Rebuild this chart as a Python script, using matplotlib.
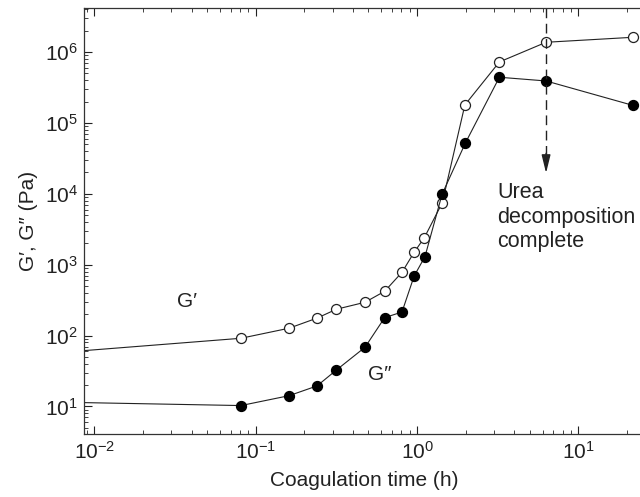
import matplotlib.pyplot as plt
import numpy as np

plt.rcParams['font.family'] = ['Liberation Sans', 'DejaVu Sans']
plt.rcParams['mathtext.default'] = 'regular'

# coagulation time (h) and moduli (Pa)
time_g1 = [0.005, 0.081, 0.161, 0.241, 0.316, 0.476, 0.630, 0.807, 0.958, 1.11, 1.435, 1.98, 3.24, 6.31, 21.7]
g_storage = [55.6, 91.6, 127, 177, 235, 295, 421, 781, 1486, 2404, 7480, 1.79e5, 7.23e5, 1.37e6, 1.61e6]

time_g2 = [0.005, 0.081, 0.161, 0.240, 0.315, 0.476, 0.630, 0.807, 0.960, 1.12, 1.43, 1.99, 3.24, 6.31, 21.7]
g_loss = [11.6, 10.3, 14.2, 19.5, 32.4, 68.4, 179, 215, 693, 1297, 9840, 5.15e4, 4.40e5, 3.90e5, 1.77e5]

urea_done_t = 6.31
arrow_tip = 1.96e4

xlims = [0.00862, 25.9]
ylims = [4.09, 4.13e6]

fig = plt.figure(figsize=[6.4, 4.97], dpi=100)
ax = fig.add_axes([84/640, 1 - 434/497, 561/640, (434 - 8.3)/497])

ax.plot(time_g1, g_storage, '-o', color='#222222', lw=0.8, ms=7.2,
        mfc='white', mec='#222222', mew=0.9)
ax.plot(time_g2, g_loss, '-o', color='#222222', lw=0.8, ms=7.2,
        mfc='black', mec='black', mew=0.9)

ax.set_xscale('log')
ax.set_yscale('log')
ax.set_xlim(xlims)
ax.set_ylim(ylims)

# dashed marker for end of urea decomposition
ax.plot([urea_done_t, urea_done_t], [ylims[1], arrow_tip * 1.6], '--', color='#222222',
        lw=1.0, dashes=(7, 4))
ax.annotate('', xy=(urea_done_t, arrow_tip), xytext=(urea_done_t, arrow_tip * 1.9),
            arrowprops=dict(arrowstyle='-|>,head_length=1.1,head_width=0.27', color='#222222',
                            lw=1.0, mutation_scale=10, shrinkA=0, shrinkB=0))

ax.text(3.13, 1.45e4, "Urea\ndecomposition\ncomplete", va='top', ha='left',
        fontsize=15.5, color='#222222', linespacing=1.2)
ax.text(0.0375, 300, "G\u2032", fontsize=15, ha='center', va='center', color='#222222')
ax.text(0.59, 28, "G\u2033", fontsize=15, ha='center', va='center', color='#222222')

ax.set_xlabel("Coagulation time (h)", fontsize=15, color='#222222', labelpad=6)
ax.set_ylabel("G\u2032, G\u2033 (Pa)", fontsize=15, color='#222222', labelpad=5)

ax.tick_params(which='both', direction='in', top=True, right=False, labelsize=15,
               colors='#222222')
ax.tick_params(which='major', length=6, width=0.8)
ax.tick_params(which='minor', length=3, width=0.6)
ax.tick_params(axis='x', which='major', pad=5)
ax.tick_params(axis='y', which='major', pad=4.5)
ax.yaxis.set_major_locator(plt.LogLocator(base=10, numticks=12))
ax.yaxis.set_minor_locator(plt.LogLocator(base=10, subs=np.arange(2, 10), numticks=12))
for s in ax.spines.values():
    s.set_linewidth(0.9)
    s.set_color('#333333')

plt.savefig('out.png', dpi=100)
